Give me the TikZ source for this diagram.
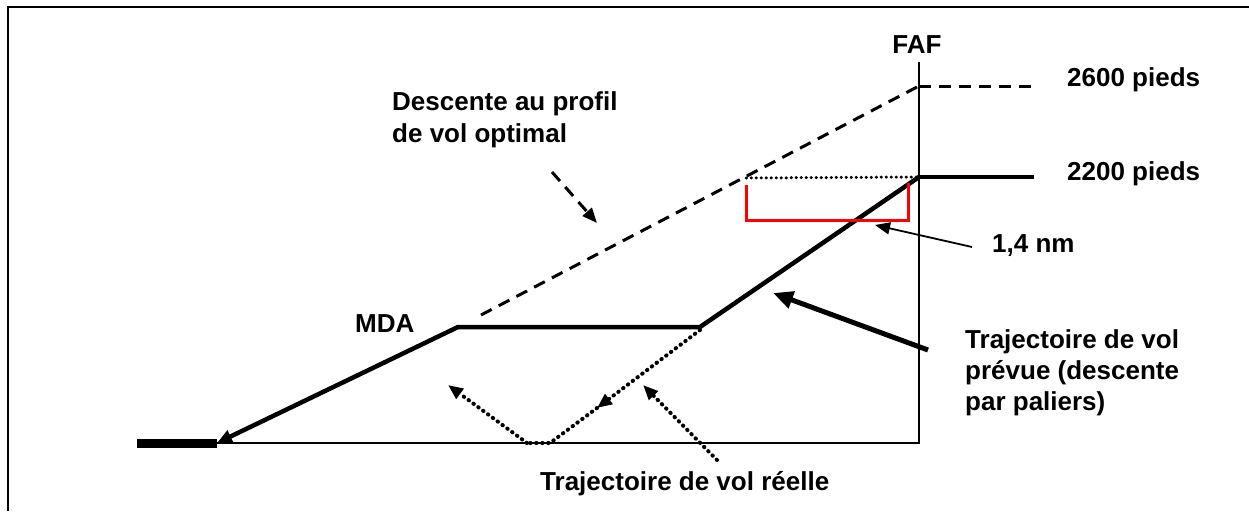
\documentclass[tikz,border=0pt]{standalone}
\usepackage{fontspec}
\setmainfont{Liberation Sans}
\usetikzlibrary{arrows.meta}
\begin{document}
\begin{tikzpicture}[x=1pt,y=-1pt,
  lbl/.style={font=\fontsize{26}{31}\selectfont\bfseries, inner sep=0pt, anchor=base west},
  thickpath/.style={line width=4.5pt, line join=miter},
  dashedln/.style={line width=3pt, dash pattern=on 12pt off 8pt},
  dottedln/.style={line width=4pt, line cap=round, dash pattern=on 0.5pt off 5.5pt},
  tipsm/.style={-{Triangle[length=15pt,width=12pt]}},
  tipbig/.style={-{Triangle[length=20pt,width=17pt]}},
]
\useasboundingbox (0,0) rectangle (1249,511);
% frame
\draw[line width=2.5pt] (8,511) -- (8,7) -- (1249,7);
% coordinates
\coordinate (G0) at (137,443);
\coordinate (G1) at (217,443);
\coordinate (GF) at (919,443);
\coordinate (FT) at (919,62);
\coordinate (M0) at (458,327);
\coordinate (M1) at (700,327);
\coordinate (F22) at (919,177);
\coordinate (E22) at (1034,177);
\coordinate (F26) at (919,86);
\coordinate (E26) at (1038,86);
\coordinate (D0) at (481,315);
\coordinate (S0) at (746,178);
\coordinate (RA) at (746,185);
\coordinate (RB) at (746,220);
\coordinate (RC) at (908,220);
\coordinate (RD) at (908,183);
\coordinate (NA) at (972,247);
\coordinate (NB) at (875,225);
\coordinate (PA) at (928,350);
\coordinate (PB) at (773,293);
\coordinate (OA) at (552,172);
\coordinate (OB) at (597,223);
\coordinate (R0) at (700,330);
\coordinate (R1) at (597,408);
\coordinate (R2) at (550,443);
\coordinate (R3) at (527,443);
\coordinate (R4) at (448,385);
\coordinate (QA) at (717,460);
\coordinate (QB) at (643,385);
% ground and FAF line
\draw[line width=2pt] (G1) -- (GF) -- (FT);
\draw[line width=9pt] (G0) -- (G1);
% planned path
\draw[thickpath, -{Triangle[length=15pt,width=13pt]}] (F22) -- (M1) -- (M0) -- (G1);
\draw[thickpath] (F22) -- (E22);
% optimal profile
\draw[dashedln] (F26) -- (E26);
\draw[dashedln] (D0) -- (F26);
\draw[line width=3pt, line cap=round, dash pattern=on 0.5pt off 4.5pt] (S0) -- (F22);
% red bracket
\draw[red, line width=3pt] (RA) -- (RB) -- (RC) -- (RD);
% pointers
\draw[line width=1.8pt, tipsm] (NA) -- (NB);
\draw[line width=5pt, tipbig] (PA) -- (PB);
\draw[dashedln, tipsm] (OA) -- (OB);
% actual path
\draw[dottedln, tipsm] (R0) -- (R1);
\draw[dottedln] (R1) -- (R2) -- (R3);
\draw[dottedln, tipsm] (R3) -- (R4);
\draw[dottedln, tipsm] (QA) -- (QB);
% labels
\node[lbl, anchor=base] (faf) at (917,54) {FAF};
\node[lbl] (h26) at (1067,86) {2600 pieds};
\node[lbl] (h22) at (1067,180) {2200 pieds};
\node[lbl] (desc1) at (392,110) {Descente au profil};
\node[lbl] (desc2) at (392,142) {de vol optimal};
\node[lbl] (mda) at (355,332) {MDA};
\node[lbl] (nm) at (992,252) {1,4 nm};
\node[lbl] (plan1) at (965,348) {Trajectoire de vol};
\node[lbl] (plan2) at (965,379) {prévue (descente};
\node[lbl] (plan3) at (965,410) {par paliers)};
\node[lbl] (reel) at (540,490) {Trajectoire de vol réelle};
\end{tikzpicture}
\end{document}
